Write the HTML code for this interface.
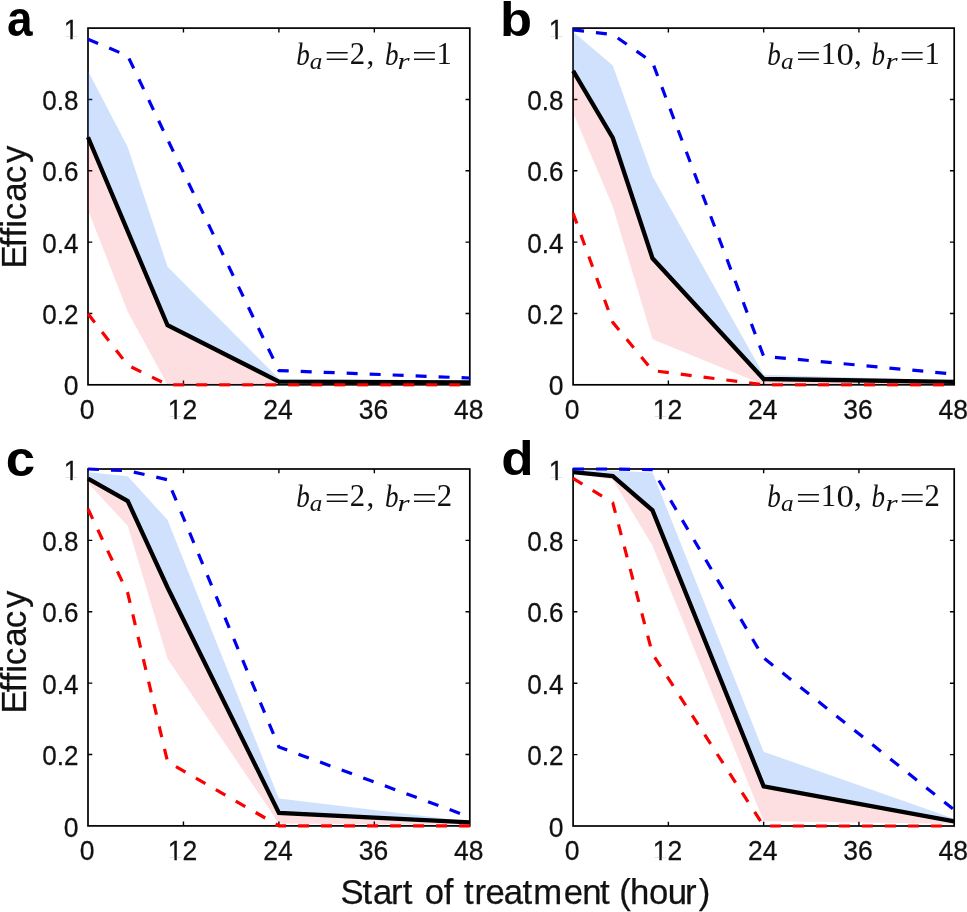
<!DOCTYPE html>
<html><head><meta charset="utf-8"><title>Efficacy vs start of treatment</title><style>
html,body{margin:0;padding:0;background:#fff;}
svg{display:block;will-change:transform;}
</style></head><body>
<svg width="967" height="912" viewBox="0 0 967 912">
<rect width="967" height="912" fill="#fff"/>

<defs><clipPath id="c1_0"><rect x="13.66" y="-21.30" width="200.00" height="57.79"/><rect x="70.33" y="35.99" width="2.34" height="3.98"/></clipPath><clipPath id="c1_1"><rect x="117.76" y="358.60" width="200.00" height="57.79"/><rect x="174.43" y="415.89" width="2.34" height="3.98"/><rect x="182.50" y="415.89" width="100" height="20"/></clipPath><clipPath id="c1_2"><rect x="498.76" y="-21.30" width="200.00" height="57.79"/><rect x="555.43" y="35.99" width="2.34" height="3.98"/></clipPath><clipPath id="c1_3"><rect x="602.69" y="358.60" width="200.00" height="57.79"/><rect x="659.35" y="415.89" width="2.34" height="3.98"/><rect x="667.42" y="415.89" width="100" height="20"/></clipPath><clipPath id="c1_4"><rect x="13.66" y="419.60" width="200.00" height="57.79"/><rect x="70.33" y="476.89" width="2.34" height="3.98"/></clipPath><clipPath id="c1_5"><rect x="117.76" y="799.70" width="200.00" height="57.79"/><rect x="174.43" y="856.99" width="2.34" height="3.98"/><rect x="182.50" y="856.99" width="100" height="20"/></clipPath><clipPath id="c1_6"><rect x="498.76" y="419.60" width="200.00" height="57.79"/><rect x="555.43" y="476.89" width="2.34" height="3.98"/></clipPath><clipPath id="c1_7"><rect x="602.69" y="799.80" width="200.00" height="57.79"/><rect x="659.35" y="857.09" width="2.34" height="3.98"/><rect x="667.42" y="857.09" width="100" height="20"/></clipPath></defs>
<clipPath id="cla"><rect x="86.0" y="26.1" width="385.8" height="360.7"/></clipPath>
<rect x="88.0" y="28.1" width="381.80" height="356.70" fill="none" stroke="#000" stroke-width="1.7"/>
<path d="M88.00 313.46h4.3M469.80 313.46h-4.3M88.00 242.12h4.3M469.80 242.12h-4.3M88.00 170.78h4.3M469.80 170.78h-4.3M88.00 99.44h4.3M469.80 99.44h-4.3M183.45 384.80v-4.3M183.45 28.10v4.3M278.90 384.80v-4.3M278.90 28.10v4.3M374.35 384.80v-4.3M374.35 28.10v4.3" stroke="#000" stroke-width="1.4" fill="none"/>
<g clip-path="url(#cla)">
<polygon points="88.00,70.90 127.77,147.24 167.54,266.73 278.90,378.74 469.80,381.23 469.80,382.30 278.90,381.59 167.54,325.23 127.77,231.42 88.00,137.25" fill="rgb(63,135,243)" fill-opacity="0.25"/>
<polygon points="88.00,137.25 127.77,231.42 167.54,325.23 278.90,381.59 469.80,382.30 469.80,384.80 278.90,384.80 167.54,384.80 127.77,311.68 88.00,210.02" fill="rgb(242,42,55)" fill-opacity="0.15"/>
<polyline points="88.00,137.25 127.77,231.42 167.54,325.23 278.90,381.59 469.80,382.30" fill="none" stroke="#000" stroke-width="4.3" stroke-linejoin="miter"/>
<polyline points="88.00,39.16 127.77,55.92 167.54,139.39 278.90,370.53 469.80,378.02" fill="none" stroke="#0000f0" stroke-width="3.2" stroke-dasharray="11 12" stroke-linejoin="round"/>
<polyline points="88.00,313.82 127.77,365.18 167.54,384.80 278.90,384.80 469.80,384.80" fill="none" stroke="#fa0000" stroke-width="3.2" stroke-dasharray="11 12" stroke-linejoin="round"/>
</g>
<text transform="translate(78.40,395.40) scale(1.0,1.04)" style='font-family:"Liberation Sans", sans-serif' font-size="26.5" text-anchor="end" stroke="#111" stroke-width="0.25" fill="#111">0</text>
<text transform="translate(78.40,324.06) scale(0.983,1.04)" style='font-family:"Liberation Sans", sans-serif' font-size="26.5" text-anchor="end" stroke="#111" stroke-width="0.25" fill="#111">0.2</text>
<text transform="translate(78.40,252.72) scale(0.983,1.04)" style='font-family:"Liberation Sans", sans-serif' font-size="26.5" text-anchor="end" stroke="#111" stroke-width="0.25" fill="#111">0.4</text>
<text transform="translate(78.40,181.38) scale(0.983,1.04)" style='font-family:"Liberation Sans", sans-serif' font-size="26.5" text-anchor="end" stroke="#111" stroke-width="0.25" fill="#111">0.6</text>
<text transform="translate(78.40,110.04) scale(0.983,1.04)" style='font-family:"Liberation Sans", sans-serif' font-size="26.5" text-anchor="end" stroke="#111" stroke-width="0.25" fill="#111">0.8</text>
<g clip-path="url(#c1_0)"><text transform="translate(78.40,38.70) scale(1.0,1.04)" style='font-family:"Liberation Sans", sans-serif' font-size="26.5" text-anchor="end" stroke="#111" stroke-width="0.25" fill="#111">1</text></g>
<text transform="translate(87.05,418.60) scale(1.0,1.04)" style='font-family:"Liberation Sans", sans-serif' font-size="26.5" text-anchor="middle" stroke="#111" stroke-width="0.25" fill="#111">0</text>
<g clip-path="url(#c1_1)"><text transform="translate(182.50,418.60) scale(1.0,1.04)" style='font-family:"Liberation Sans", sans-serif' font-size="26.5" text-anchor="middle" stroke="#111" stroke-width="0.25" fill="#111">12</text></g>
<text transform="translate(277.95,418.60) scale(1.0,1.04)" style='font-family:"Liberation Sans", sans-serif' font-size="26.5" text-anchor="middle" stroke="#111" stroke-width="0.25" fill="#111">24</text>
<text transform="translate(373.40,418.60) scale(1.0,1.04)" style='font-family:"Liberation Sans", sans-serif' font-size="26.5" text-anchor="middle" stroke="#111" stroke-width="0.25" fill="#111">36</text>
<text transform="translate(468.85,418.60) scale(1.0,1.04)" style='font-family:"Liberation Sans", sans-serif' font-size="26.5" text-anchor="middle" stroke="#111" stroke-width="0.25" fill="#111">48</text>
<clipPath id="clb"><rect x="571.1" y="26.1" width="385.1" height="360.7"/></clipPath>
<rect x="573.1" y="28.1" width="381.10" height="356.70" fill="none" stroke="#000" stroke-width="1.7"/>
<path d="M573.10 313.46h4.3M954.20 313.46h-4.3M573.10 242.12h4.3M954.20 242.12h-4.3M573.10 170.78h4.3M954.20 170.78h-4.3M573.10 99.44h4.3M954.20 99.44h-4.3M668.38 384.80v-4.3M668.38 28.10v4.3M763.65 384.80v-4.3M763.65 28.10v4.3M858.92 384.80v-4.3M858.92 28.10v4.3" stroke="#000" stroke-width="1.4" fill="none"/>
<g clip-path="url(#clb)">
<polygon points="573.10,31.67 612.80,65.55 652.50,176.31 763.65,374.71 954.20,380.52 954.20,381.95 763.65,378.99 652.50,258.31 612.80,137.96 573.10,70.90" fill="rgb(63,135,243)" fill-opacity="0.25"/>
<polygon points="573.10,70.90 612.80,137.96 652.50,258.31 763.65,378.99 954.20,381.95 954.20,384.80 763.65,384.80 652.50,339.14 612.80,206.45 573.10,112.64" fill="rgb(242,42,55)" fill-opacity="0.15"/>
<polyline points="573.10,70.90 612.80,137.96 652.50,258.31 763.65,378.99 954.20,381.95" fill="none" stroke="#000" stroke-width="4.3" stroke-linejoin="miter"/>
<polyline points="573.10,29.88 612.80,34.52 652.50,62.34 763.65,356.26 954.20,374.10" fill="none" stroke="#0000f0" stroke-width="3.2" stroke-dasharray="11 12" stroke-linejoin="round"/>
<polyline points="573.10,213.23 612.80,322.38 652.50,370.53 763.65,384.80 954.20,384.80" fill="none" stroke="#fa0000" stroke-width="3.2" stroke-dasharray="11 12" stroke-linejoin="round"/>
</g>
<text transform="translate(563.50,395.40) scale(1.0,1.04)" style='font-family:"Liberation Sans", sans-serif' font-size="26.5" text-anchor="end" stroke="#111" stroke-width="0.25" fill="#111">0</text>
<text transform="translate(563.50,324.06) scale(0.983,1.04)" style='font-family:"Liberation Sans", sans-serif' font-size="26.5" text-anchor="end" stroke="#111" stroke-width="0.25" fill="#111">0.2</text>
<text transform="translate(563.50,252.72) scale(0.983,1.04)" style='font-family:"Liberation Sans", sans-serif' font-size="26.5" text-anchor="end" stroke="#111" stroke-width="0.25" fill="#111">0.4</text>
<text transform="translate(563.50,181.38) scale(0.983,1.04)" style='font-family:"Liberation Sans", sans-serif' font-size="26.5" text-anchor="end" stroke="#111" stroke-width="0.25" fill="#111">0.6</text>
<text transform="translate(563.50,110.04) scale(0.983,1.04)" style='font-family:"Liberation Sans", sans-serif' font-size="26.5" text-anchor="end" stroke="#111" stroke-width="0.25" fill="#111">0.8</text>
<g clip-path="url(#c1_2)"><text transform="translate(563.50,38.70) scale(1.0,1.04)" style='font-family:"Liberation Sans", sans-serif' font-size="26.5" text-anchor="end" stroke="#111" stroke-width="0.25" fill="#111">1</text></g>
<text transform="translate(572.15,418.60) scale(1.0,1.04)" style='font-family:"Liberation Sans", sans-serif' font-size="26.5" text-anchor="middle" stroke="#111" stroke-width="0.25" fill="#111">0</text>
<g clip-path="url(#c1_3)"><text transform="translate(667.42,418.60) scale(1.0,1.04)" style='font-family:"Liberation Sans", sans-serif' font-size="26.5" text-anchor="middle" stroke="#111" stroke-width="0.25" fill="#111">12</text></g>
<text transform="translate(762.70,418.60) scale(1.0,1.04)" style='font-family:"Liberation Sans", sans-serif' font-size="26.5" text-anchor="middle" stroke="#111" stroke-width="0.25" fill="#111">24</text>
<text transform="translate(857.97,418.60) scale(1.0,1.04)" style='font-family:"Liberation Sans", sans-serif' font-size="26.5" text-anchor="middle" stroke="#111" stroke-width="0.25" fill="#111">36</text>
<text transform="translate(953.25,418.60) scale(1.0,1.04)" style='font-family:"Liberation Sans", sans-serif' font-size="26.5" text-anchor="middle" stroke="#111" stroke-width="0.25" fill="#111">48</text>
<clipPath id="clc"><rect x="86.0" y="467.0" width="385.8" height="360.9"/></clipPath>
<rect x="88.0" y="469.0" width="381.80" height="356.90" fill="none" stroke="#000" stroke-width="1.7"/>
<path d="M88.00 754.52h4.3M469.80 754.52h-4.3M88.00 683.14h4.3M469.80 683.14h-4.3M88.00 611.76h4.3M469.80 611.76h-4.3M88.00 540.38h4.3M469.80 540.38h-4.3M183.45 825.90v-4.3M183.45 469.00v4.3M278.90 825.90v-4.3M278.90 469.00v4.3M374.35 825.90v-4.3M374.35 469.00v4.3" stroke="#000" stroke-width="1.4" fill="none"/>
<g clip-path="url(#clc)">
<polygon points="88.00,472.21 127.77,476.14 167.54,520.04 278.90,798.42 469.80,821.62 469.80,822.40 278.90,812.91 167.54,587.49 127.77,501.12 88.00,478.64" fill="rgb(63,135,243)" fill-opacity="0.25"/>
<polygon points="88.00,478.64 127.77,501.12 167.54,587.49 278.90,812.91 469.80,822.40 469.80,824.83 278.90,823.40 167.54,658.69 127.77,525.89 88.00,483.10" fill="rgb(242,42,55)" fill-opacity="0.15"/>
<polyline points="88.00,478.64 127.77,501.12 167.54,587.49 278.90,812.91 469.80,822.40" fill="none" stroke="#000" stroke-width="4.3" stroke-linejoin="miter"/>
<polyline points="88.00,469.00 127.77,470.78 167.54,479.71 278.90,747.03 469.80,816.98" fill="none" stroke="#0000f0" stroke-width="3.2" stroke-dasharray="11 12" stroke-linejoin="round"/>
<polyline points="88.00,508.97 127.77,593.20 167.54,761.66 278.90,825.90 469.80,825.90" fill="none" stroke="#fa0000" stroke-width="3.2" stroke-dasharray="11 12" stroke-linejoin="round"/>
</g>
<text transform="translate(78.40,836.50) scale(1.0,1.04)" style='font-family:"Liberation Sans", sans-serif' font-size="26.5" text-anchor="end" stroke="#111" stroke-width="0.25" fill="#111">0</text>
<text transform="translate(78.40,765.12) scale(0.983,1.04)" style='font-family:"Liberation Sans", sans-serif' font-size="26.5" text-anchor="end" stroke="#111" stroke-width="0.25" fill="#111">0.2</text>
<text transform="translate(78.40,693.74) scale(0.983,1.04)" style='font-family:"Liberation Sans", sans-serif' font-size="26.5" text-anchor="end" stroke="#111" stroke-width="0.25" fill="#111">0.4</text>
<text transform="translate(78.40,622.36) scale(0.983,1.04)" style='font-family:"Liberation Sans", sans-serif' font-size="26.5" text-anchor="end" stroke="#111" stroke-width="0.25" fill="#111">0.6</text>
<text transform="translate(78.40,550.98) scale(0.983,1.04)" style='font-family:"Liberation Sans", sans-serif' font-size="26.5" text-anchor="end" stroke="#111" stroke-width="0.25" fill="#111">0.8</text>
<g clip-path="url(#c1_4)"><text transform="translate(78.40,479.60) scale(1.0,1.04)" style='font-family:"Liberation Sans", sans-serif' font-size="26.5" text-anchor="end" stroke="#111" stroke-width="0.25" fill="#111">1</text></g>
<text transform="translate(87.05,859.70) scale(1.0,1.04)" style='font-family:"Liberation Sans", sans-serif' font-size="26.5" text-anchor="middle" stroke="#111" stroke-width="0.25" fill="#111">0</text>
<g clip-path="url(#c1_5)"><text transform="translate(182.50,859.70) scale(1.0,1.04)" style='font-family:"Liberation Sans", sans-serif' font-size="26.5" text-anchor="middle" stroke="#111" stroke-width="0.25" fill="#111">12</text></g>
<text transform="translate(277.95,859.70) scale(1.0,1.04)" style='font-family:"Liberation Sans", sans-serif' font-size="26.5" text-anchor="middle" stroke="#111" stroke-width="0.25" fill="#111">24</text>
<text transform="translate(373.40,859.70) scale(1.0,1.04)" style='font-family:"Liberation Sans", sans-serif' font-size="26.5" text-anchor="middle" stroke="#111" stroke-width="0.25" fill="#111">36</text>
<text transform="translate(468.85,859.70) scale(1.0,1.04)" style='font-family:"Liberation Sans", sans-serif' font-size="26.5" text-anchor="middle" stroke="#111" stroke-width="0.25" fill="#111">48</text>
<clipPath id="cld"><rect x="571.1" y="467.0" width="385.1" height="361.0"/></clipPath>
<rect x="573.1" y="469.0" width="381.10" height="357.00" fill="none" stroke="#000" stroke-width="1.7"/>
<path d="M573.10 754.60h4.3M954.20 754.60h-4.3M573.10 683.20h4.3M954.20 683.20h-4.3M573.10 611.80h4.3M954.20 611.80h-4.3M573.10 540.40h4.3M954.20 540.40h-4.3M668.38 826.00v-4.3M668.38 469.00v4.3M763.65 826.00v-4.3M763.65 469.00v4.3M858.92 826.00v-4.3M858.92 469.00v4.3" stroke="#000" stroke-width="1.4" fill="none"/>
<g clip-path="url(#cld)">
<polygon points="573.10,469.00 612.80,470.79 652.50,472.57 763.65,751.74 954.20,818.86 954.20,821.36 763.65,786.37 652.50,510.41 612.80,476.14 573.10,472.21" fill="rgb(63,135,243)" fill-opacity="0.25"/>
<polygon points="573.10,472.21 612.80,476.14 652.50,510.41 763.65,786.37 954.20,821.36 954.20,823.86 763.65,821.36 652.50,545.75 612.80,479.71 573.10,473.28" fill="rgb(242,42,55)" fill-opacity="0.15"/>
<polyline points="573.10,472.21 612.80,476.14 652.50,510.41 763.65,786.37 954.20,821.36" fill="none" stroke="#000" stroke-width="4.3" stroke-linejoin="miter"/>
<polyline points="573.10,469.00 612.80,469.00 652.50,469.71 763.65,657.85 954.20,809.93" fill="none" stroke="#0000f0" stroke-width="3.2" stroke-dasharray="11 12" stroke-linejoin="round"/>
<polyline points="573.10,478.28 612.80,502.91 652.50,653.93 763.65,826.00 954.20,826.00" fill="none" stroke="#fa0000" stroke-width="3.2" stroke-dasharray="11 12" stroke-linejoin="round"/>
</g>
<text transform="translate(563.50,836.60) scale(1.0,1.04)" style='font-family:"Liberation Sans", sans-serif' font-size="26.5" text-anchor="end" stroke="#111" stroke-width="0.25" fill="#111">0</text>
<text transform="translate(563.50,765.20) scale(0.983,1.04)" style='font-family:"Liberation Sans", sans-serif' font-size="26.5" text-anchor="end" stroke="#111" stroke-width="0.25" fill="#111">0.2</text>
<text transform="translate(563.50,693.80) scale(0.983,1.04)" style='font-family:"Liberation Sans", sans-serif' font-size="26.5" text-anchor="end" stroke="#111" stroke-width="0.25" fill="#111">0.4</text>
<text transform="translate(563.50,622.40) scale(0.983,1.04)" style='font-family:"Liberation Sans", sans-serif' font-size="26.5" text-anchor="end" stroke="#111" stroke-width="0.25" fill="#111">0.6</text>
<text transform="translate(563.50,551.00) scale(0.983,1.04)" style='font-family:"Liberation Sans", sans-serif' font-size="26.5" text-anchor="end" stroke="#111" stroke-width="0.25" fill="#111">0.8</text>
<g clip-path="url(#c1_6)"><text transform="translate(563.50,479.60) scale(1.0,1.04)" style='font-family:"Liberation Sans", sans-serif' font-size="26.5" text-anchor="end" stroke="#111" stroke-width="0.25" fill="#111">1</text></g>
<text transform="translate(572.15,859.80) scale(1.0,1.04)" style='font-family:"Liberation Sans", sans-serif' font-size="26.5" text-anchor="middle" stroke="#111" stroke-width="0.25" fill="#111">0</text>
<g clip-path="url(#c1_7)"><text transform="translate(667.42,859.80) scale(1.0,1.04)" style='font-family:"Liberation Sans", sans-serif' font-size="26.5" text-anchor="middle" stroke="#111" stroke-width="0.25" fill="#111">12</text></g>
<text transform="translate(762.70,859.80) scale(1.0,1.04)" style='font-family:"Liberation Sans", sans-serif' font-size="26.5" text-anchor="middle" stroke="#111" stroke-width="0.25" fill="#111">24</text>
<text transform="translate(857.97,859.80) scale(1.0,1.04)" style='font-family:"Liberation Sans", sans-serif' font-size="26.5" text-anchor="middle" stroke="#111" stroke-width="0.25" fill="#111">36</text>
<text transform="translate(953.25,859.80) scale(1.0,1.04)" style='font-family:"Liberation Sans", sans-serif' font-size="26.5" text-anchor="middle" stroke="#111" stroke-width="0.25" fill="#111">48</text>
<text transform="translate(296.20,64.80) scale(0.88,1.0)" style='font-family:"Liberation Serif", serif' font-size="30.8" font-style="italic" fill="#111">b</text>
<text transform="translate(309.70,68.60) scale(1.05,1.0)" style='font-family:"Liberation Serif", serif' font-size="24" font-style="italic" fill="#111">a</text>
<text transform="translate(324.56,67.30) scale(1.45,1.0)" style='font-family:"Liberation Serif", serif' font-size="31" fill="#111">=</text>
<text transform="translate(349.70,64.40)" style='font-family:"Liberation Serif", serif' font-size="30.7" fill="#111">2</text>
<text transform="translate(366.40,64.40)" style='font-family:"Liberation Serif", serif' font-size="31" fill="#111">,</text>
<text transform="translate(384.90,64.80) scale(0.88,1.0)" style='font-family:"Liberation Serif", serif' font-size="30.8" font-style="italic" fill="#111">b</text>
<text transform="translate(397.44,68.60) scale(1.35,1.0)" style='font-family:"Liberation Serif", serif' font-size="23" font-style="italic" fill="#111">r</text>
<text transform="translate(411.86,67.30) scale(1.45,1.0)" style='font-family:"Liberation Serif", serif' font-size="31" fill="#111">=</text>
<text transform="translate(436.60,64.40)" style='font-family:"Liberation Serif", serif' font-size="30.7" fill="#111">1</text>
<text transform="translate(767.20,64.80) scale(0.88,1.0)" style='font-family:"Liberation Serif", serif' font-size="30.8" font-style="italic" fill="#111">b</text>
<text transform="translate(781.10,68.60) scale(1.05,1.0)" style='font-family:"Liberation Serif", serif' font-size="24" font-style="italic" fill="#111">a</text>
<text transform="translate(795.76,67.30) scale(1.45,1.0)" style='font-family:"Liberation Serif", serif' font-size="31" fill="#111">=</text>
<text transform="translate(820.80,64.40)" style='font-family:"Liberation Serif", serif' font-size="30.7" fill="#111">1</text>
<text transform="translate(836.47,64.70) scale(1.134,1.0)" style='font-family:"Liberation Serif", serif' font-size="30.7" fill="#111">0</text>
<text transform="translate(854.10,64.40)" style='font-family:"Liberation Serif", serif' font-size="31" fill="#111">,</text>
<text transform="translate(871.40,64.80) scale(0.88,1.0)" style='font-family:"Liberation Serif", serif' font-size="30.8" font-style="italic" fill="#111">b</text>
<text transform="translate(885.54,68.60) scale(1.35,1.0)" style='font-family:"Liberation Serif", serif' font-size="23" font-style="italic" fill="#111">r</text>
<text transform="translate(899.56,67.30) scale(1.45,1.0)" style='font-family:"Liberation Serif", serif' font-size="31" fill="#111">=</text>
<text transform="translate(924.50,64.40)" style='font-family:"Liberation Serif", serif' font-size="30.7" fill="#111">1</text>
<text transform="translate(296.20,506.70) scale(0.88,1.0)" style='font-family:"Liberation Serif", serif' font-size="30.8" font-style="italic" fill="#111">b</text>
<text transform="translate(309.70,510.50) scale(1.05,1.0)" style='font-family:"Liberation Serif", serif' font-size="24" font-style="italic" fill="#111">a</text>
<text transform="translate(324.56,509.20) scale(1.45,1.0)" style='font-family:"Liberation Serif", serif' font-size="31" fill="#111">=</text>
<text transform="translate(349.70,506.30)" style='font-family:"Liberation Serif", serif' font-size="30.7" fill="#111">2</text>
<text transform="translate(366.40,506.30)" style='font-family:"Liberation Serif", serif' font-size="31" fill="#111">,</text>
<text transform="translate(384.90,506.70) scale(0.88,1.0)" style='font-family:"Liberation Serif", serif' font-size="30.8" font-style="italic" fill="#111">b</text>
<text transform="translate(397.44,510.50) scale(1.35,1.0)" style='font-family:"Liberation Serif", serif' font-size="23" font-style="italic" fill="#111">r</text>
<text transform="translate(411.86,509.20) scale(1.45,1.0)" style='font-family:"Liberation Serif", serif' font-size="31" fill="#111">=</text>
<text transform="translate(436.80,506.30)" style='font-family:"Liberation Serif", serif' font-size="30.7" fill="#111">2</text>
<text transform="translate(767.20,506.70) scale(0.88,1.0)" style='font-family:"Liberation Serif", serif' font-size="30.8" font-style="italic" fill="#111">b</text>
<text transform="translate(781.10,510.50) scale(1.05,1.0)" style='font-family:"Liberation Serif", serif' font-size="24" font-style="italic" fill="#111">a</text>
<text transform="translate(795.76,509.20) scale(1.45,1.0)" style='font-family:"Liberation Serif", serif' font-size="31" fill="#111">=</text>
<text transform="translate(820.80,506.30)" style='font-family:"Liberation Serif", serif' font-size="30.7" fill="#111">1</text>
<text transform="translate(836.47,506.60) scale(1.134,1.0)" style='font-family:"Liberation Serif", serif' font-size="30.7" fill="#111">0</text>
<text transform="translate(854.10,506.30)" style='font-family:"Liberation Serif", serif' font-size="31" fill="#111">,</text>
<text transform="translate(871.40,506.70) scale(0.88,1.0)" style='font-family:"Liberation Serif", serif' font-size="30.8" font-style="italic" fill="#111">b</text>
<text transform="translate(885.54,510.50) scale(1.35,1.0)" style='font-family:"Liberation Serif", serif' font-size="23" font-style="italic" fill="#111">r</text>
<text transform="translate(899.56,509.20) scale(1.45,1.0)" style='font-family:"Liberation Serif", serif' font-size="31" fill="#111">=</text>
<text transform="translate(924.60,506.30)" style='font-family:"Liberation Serif", serif' font-size="30.7" fill="#111">2</text>
<text transform="translate(6.95,36.40) scale(0.915,1.0)" style='font-family:"Liberation Sans", sans-serif' font-size="50.2" font-weight="bold" fill="#000">a</text>
<text transform="translate(499.94,35.80) scale(1.08,1.0)" style='font-family:"Liberation Sans", sans-serif' font-size="48.6" font-weight="bold" fill="#000">b</text>
<text transform="translate(5.74,475.60) scale(1.057,1.0)" style='font-family:"Liberation Sans", sans-serif' font-size="50.0" font-weight="bold" fill="#000">c</text>
<text transform="translate(501.23,475.10) scale(1.09,1.0)" style='font-family:"Liberation Sans", sans-serif' font-size="48.6" font-weight="bold" fill="#000">d</text>
<text x="-268.46 -247.22 -237.62 -227.67 -220.28 -201.68 -183.28 -163.09" y="0" transform="translate(26.1,0) rotate(-90)" style='font-family:"Liberation Sans", sans-serif' font-size="34.9" fill="#111" stroke="#111" stroke-width="0.25">Efficacy</text>
<text x="-713.46 -692.22 -682.62 -672.67 -665.28 -646.68 -628.28 -608.09" y="0" transform="translate(26.1,0) rotate(-90)" style='font-family:"Liberation Sans", sans-serif' font-size="34.9" fill="#111" stroke="#111" stroke-width="0.25">Efficacy</text>
<text x="340.54 362.39 372.95 390.92 402.79 412.44 424.66 443.83 453.47 463.99 474.52 485.55 503.65 522.59 533.22 563.65 582.32 599.89 609.54 619.27 629.91 648.96 667.67 685.02 698.72" y="904.0" style='font-family:"Liberation Sans", sans-serif' font-size="34.7" fill="#111" stroke="#111" stroke-width="0.25">Start of treatment (hour)</text>
</svg></body></html>
